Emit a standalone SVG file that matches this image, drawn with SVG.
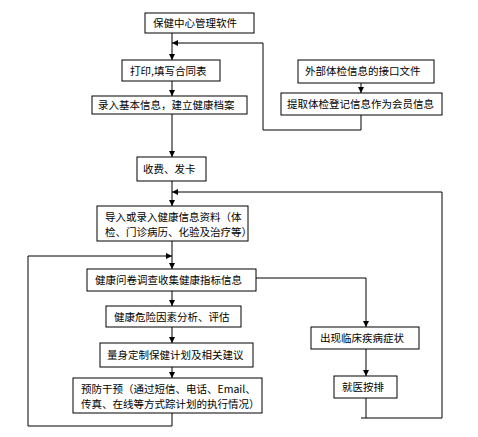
<svg xmlns="http://www.w3.org/2000/svg" width="478" height="437" viewBox="0 0 478 437">
<style>
.box{fill:#fff;stroke:#000;stroke-width:1}
.t{font-family:"Noto Sans CJK SC","Liberation Sans",sans-serif;font-size:10.5px;fill:#000}
.c{fill:none;stroke:#000;stroke-width:1}
</style>
<defs>
<marker id="a" markerUnits="userSpaceOnUse" markerWidth="6" markerHeight="6" refX="6" refY="3" orient="auto">
<path d="M0,0 L6,3 L0,6 Z" fill="#000"/>
</marker>
</defs>
<rect width="478" height="437" fill="#fff"/>
<g id="connectors">
<path class="c" d="M172,33 V60" marker-end="url(#a)"/>
<path class="c" d="M361,115 V130 H263 V43 H172" marker-end="url(#a)"/>
<path class="c" d="M361,83 V93" marker-end="url(#a)"/>
<path class="c" d="M172,81 V96" marker-end="url(#a)"/>
<path class="c" d="M172,114 V157" marker-end="url(#a)"/>
<path class="c" d="M172,181 V206" marker-end="url(#a)"/>
<path class="c" d="M366,398 V418"/>
<path class="c" d="M361,418 H442 V192 H172" marker-end="url(#a)"/>
<path class="c" d="M172,241 V269" marker-end="url(#a)"/>
<path class="c" d="M172,413 V426 H28 V256 H172" marker-end="url(#a)"/>
<path class="c" d="M256,278 H366 V327" marker-end="url(#a)"/>
<path class="c" d="M366,349 V376" marker-end="url(#a)"/>
<path class="c" d="M172,291 V306" marker-end="url(#a)"/>
<path class="c" d="M172,327 V343" marker-end="url(#a)"/>
<path class="c" d="M172,367 V378" marker-end="url(#a)"/>
</g>
<g id="n1"><rect class="box" x="145" y="13" width="109" height="20"/><text class="t" x="153" y="27">保健中心管理软件</text></g>
<g id="n2"><rect class="box" x="122" y="60" width="98" height="21"/><text class="t" x="130" y="75">打印,填写合同表</text></g>
<g id="n3"><rect class="box" x="92" y="96" width="155" height="18"/><text class="t" x="98" y="109">录入基本信息，建立健康档案</text></g>
<g id="n4"><rect class="box" x="298" y="60" width="136" height="23"/><text class="t" x="305" y="75">外部体检信息的接口文件</text></g>
<g id="n5"><rect class="box" x="281" y="93" width="161" height="22"/><text class="t" x="287" y="108">提取体检登记信息作为会员信息</text></g>
<g id="n6"><rect class="box" x="137" y="157" width="69" height="24"/><text class="t" x="143" y="173">收费、发卡</text></g>
<g id="n7"><rect class="box" x="97" y="206" width="151" height="35"/><text class="t" x="105" y="221">导入或录入健康信息资料（体</text><text class="t" x="105" y="236">检、门诊病历、化验及治疗等）</text></g>
<g id="n8"><rect class="box" x="87" y="269" width="169" height="22"/><text class="t" x="95" y="284">健康问卷调查收集健康指标信息</text></g>
<g id="n9"><rect class="box" x="106" y="306" width="135" height="21"/><text class="t" x="114" y="321">健康危险因素分析、评估</text></g>
<g id="n10"><rect class="box" x="100" y="343" width="153" height="24"/><text class="t" x="107" y="359">量身定制保健计划及相关建议</text></g>
<g id="n11"><rect class="box" x="73" y="378" width="189" height="35"/><text class="t" x="81" y="393">预防干预（通过短信、电话、Email、</text><text class="t" x="81" y="408">传真、在线等方式踪计划的执行情况）</text></g>
<g id="n12"><rect class="box" x="311" y="327" width="108" height="22"/><text class="t" x="320" y="342">出现临床疾病症状</text></g>
<g id="n13"><rect class="box" x="334" y="376" width="63" height="22"/><text class="t" x="342" y="391">就医按排</text></g>
</svg>
